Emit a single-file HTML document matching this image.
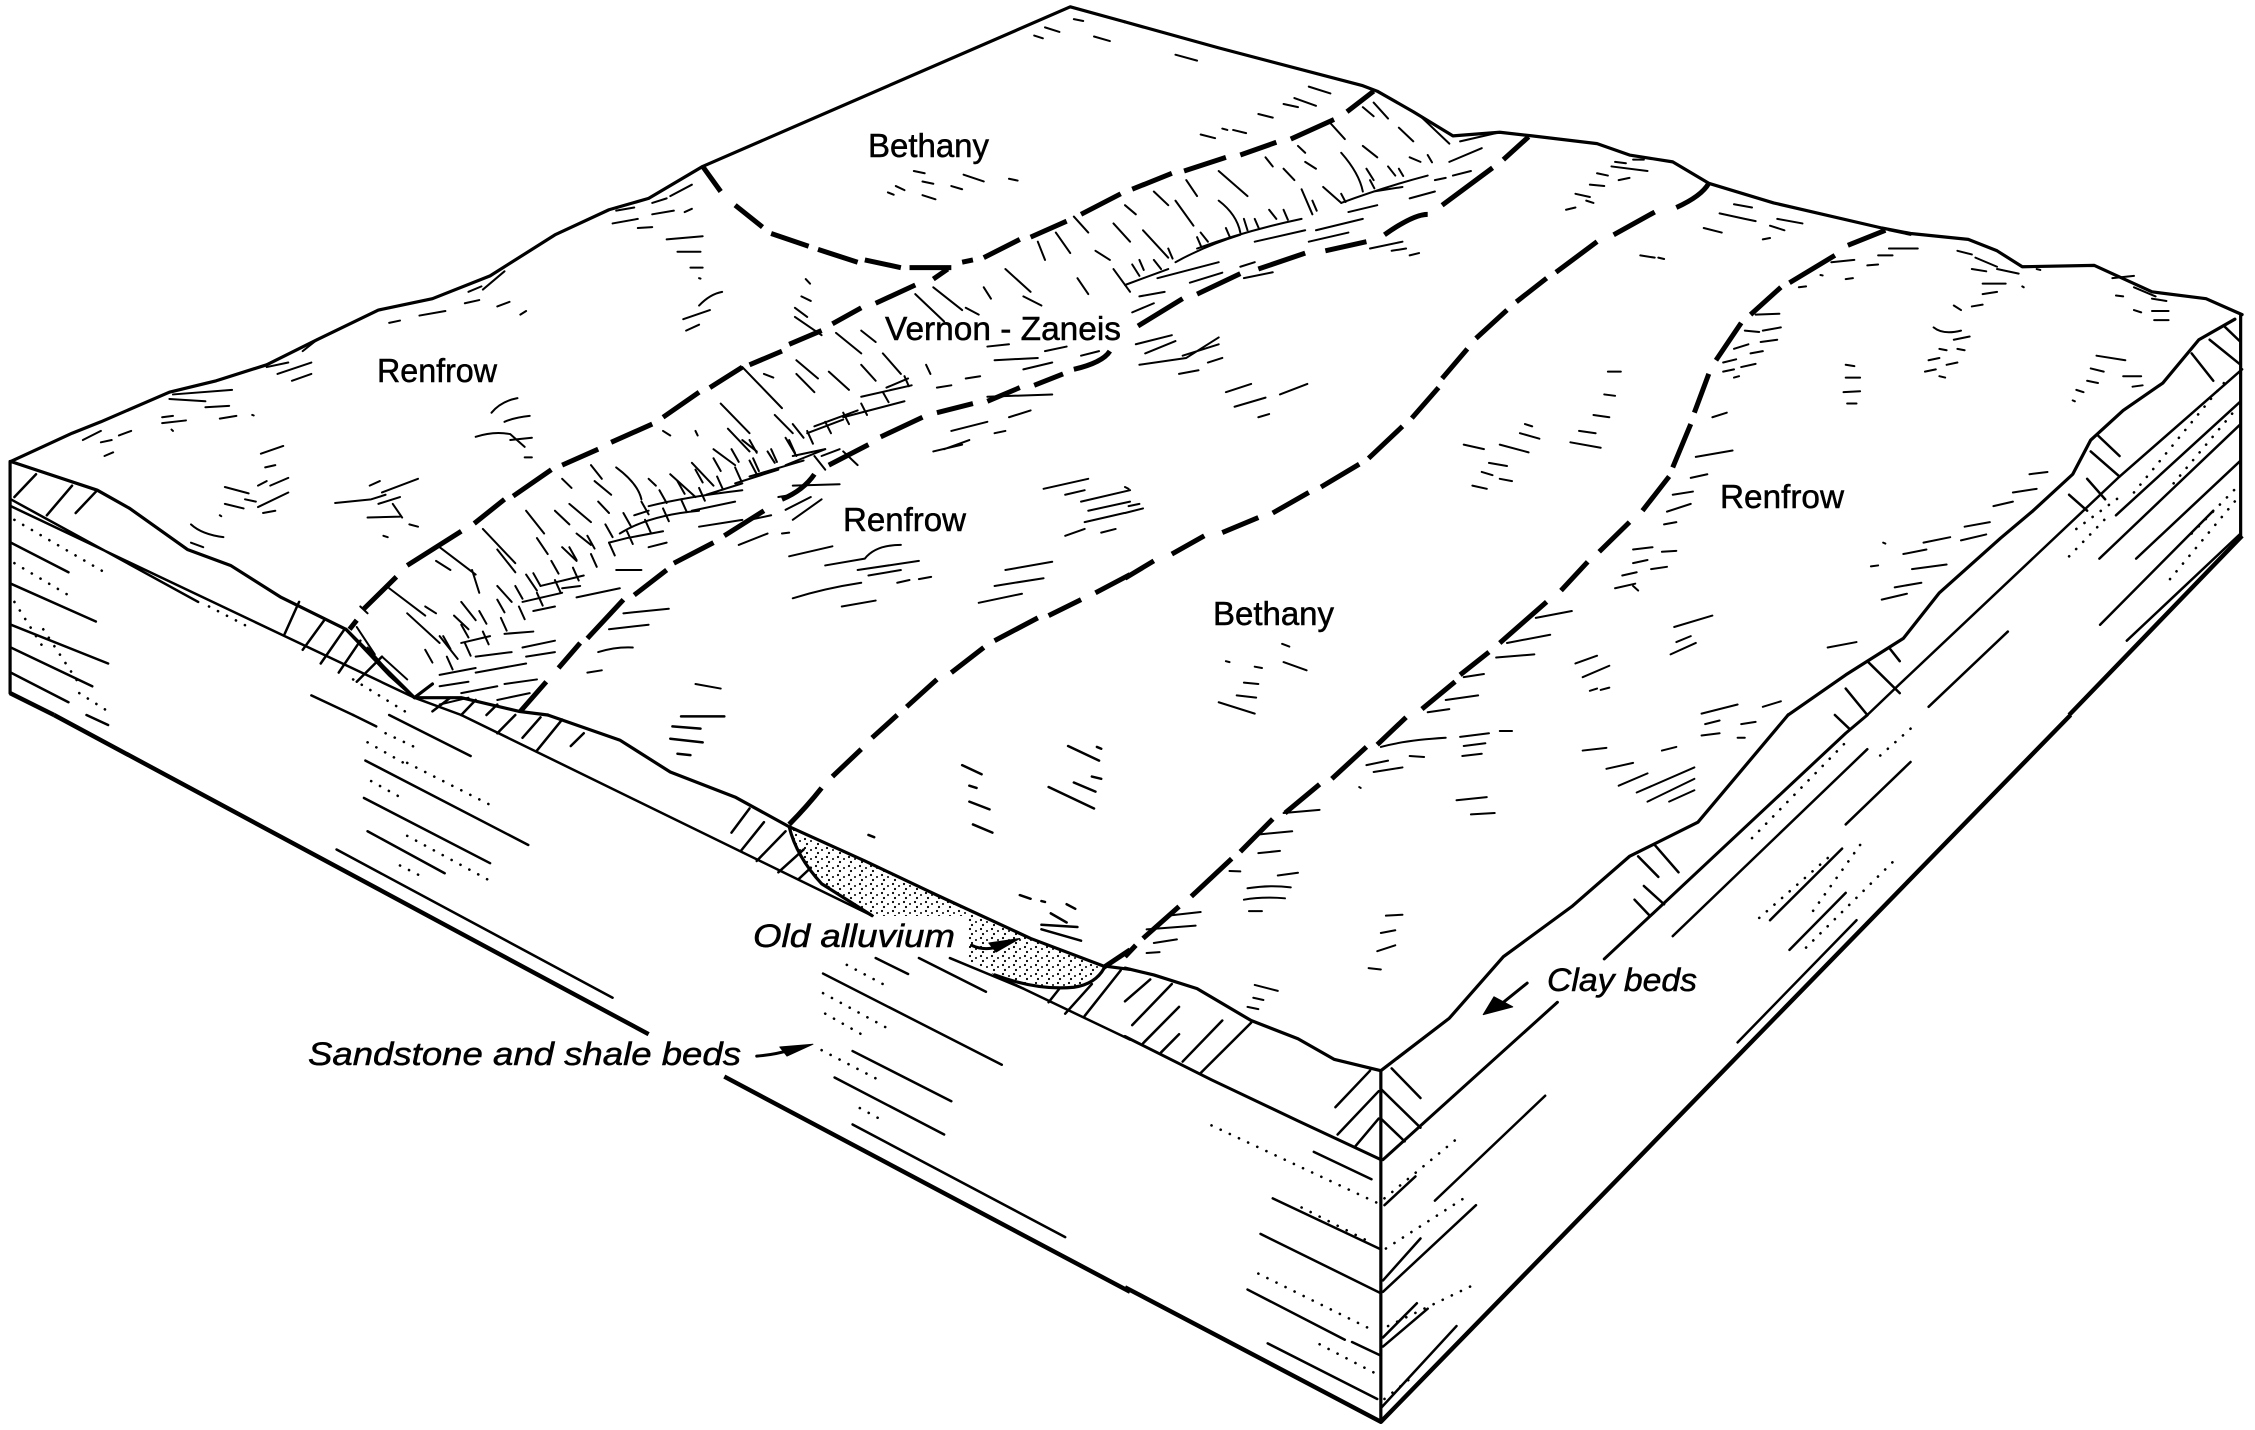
<!DOCTYPE html>
<html><head><meta charset="utf-8"><title>Block diagram</title>
<style>
html,body{margin:0;padding:0;background:#fff}
svg{display:block}
path{fill:none;stroke:#000;stroke-linecap:round;stroke-linejoin:round;vector-effect:non-scaling-stroke}
.o path{stroke-width:3.2px}
.k path{stroke-width:4.4px;stroke-linecap:butt}
.d path{stroke-width:5px;stroke-linecap:butt}
.t path{stroke-width:2px}
.m path{stroke-width:2.5px}
.p path{stroke-width:2.6px;stroke-dasharray:.1 10}
text{font-family:"Liberation Sans",sans-serif;fill:#000}
.l{font-size:33px;stroke:#000;stroke-width:.5px}
.i{font-size:32px;font-style:italic;stroke:#000;stroke-width:.5px}
</style></head><body>
<svg width="2255" height="1430" xmlns="http://www.w3.org/2000/svg">
<defs>
<pattern id="st" width="11" height="9" patternUnits="userSpaceOnUse">
<circle cx="2" cy="2" r="1.1"/><circle cx="8" cy="4" r="1"/><circle cx="4" cy="7" r="1.1"/>
</pattern>
</defs>

<path d="M791,829L865,861L937,895L1031,938L1103,968L1081,986L1045,989L995,975L969,961L966,916L872,916L822,884L800,856Z" style="stroke:none;fill:url(#st)"/>

<!-- Q1 -->
<g transform="translate(0,0) scale(.7207,.456)">
<g class="o">
<path d="M15,1012L100,950L140,925L235,860L300,835L370,800L440,745L525,680L600,655L680,605L770,515L845,460L900,435L975,365L1485,15L1561,48"/>
<path d="M15,1012L135,1075L180,1115L260,1205L320,1240L390,1310L480,1380L540,1480L575,1530L640,1530L720,1560L760,1568"/>
<path d="M14,1012L14,1520"/>
<path d="M480,1380L575,1530M575,1530L600,1500"/>
</g>
<g class="k"><path d="M14,1520L75,1568"/></g>
<g class="m"><path d="M15,1095L275,1320M15,1110L575,1530L640,1568"/></g>
<g class="d">
<path d="M975,365L1000,420M1020,450L1058,498M1070,512L1122,540M1135,547L1190,575M1200,570L1250,587M1262,587L1320,587M1335,575L1350,570"/>
<path d="M1555,425L1500,470M1480,485L1430,520M1415,525L1365,565M1315,590L1295,612M1270,625L1215,665M1195,675L1155,710M1140,725L1095,755M1085,770L1040,800M1030,805L985,850M970,860L920,915M905,930L848,970M830,985L780,1020M765,1030L712,1088M700,1095L658,1148M640,1165L565,1240M550,1265L505,1335M495,1360L485,1380"/>
<path d="M1540,770Q1530,795 1490,810M1475,820L1435,845M1415,850L1370,880M1350,885L1300,905M1280,915L1222,958M1205,975L1150,1020M1130,1040Q1115,1075 1085,1095M1060,1120L1005,1175M990,1190L935,1235M925,1250L880,1305M865,1315L815,1400M805,1410L775,1465M758,1495L722,1560"/>
<path d="M1568,1260L1520,1300M1500,1315L1455,1350M1440,1355L1380,1405M1365,1420L1320,1475M1300,1490L1258,1550"/>
</g>
<g class="m">
<path d="M15,1190L95,1255M15,1280L133,1363M15,1370L150,1455M15,1420L128,1505M15,1475L95,1540M432,1525L490,1568"/>
<path d="M20,1090L50,1040M65,1130L100,1065M105,1125L135,1075M395,1390L415,1320M420,1425L450,1360M445,1455L478,1380M470,1475L500,1405M495,1495L530,1440M600,1560L625,1530M640,1568L660,1535M675,1568L690,1545"/>
</g>
<g class="p"><path d="M20,1140L145,1255M20,1235L100,1310M20,1320L60,1420M60,1380L110,1500M290,1330L345,1375M490,1490L570,1568M110,1520L150,1560"/></g>
<g class="t">
<path d="M1268,375L1283,380M1337,383L1365,398M1400,392L1412,396M1280,398L1295,403M1320,408L1335,415M1243,408L1255,417M1232,422L1240,427M1280,428L1298,437M1435,78L1447,84M1450,60L1470,70M1518,80L1540,90M1490,42L1503,46"/>
<path d="M850,490L885,480M905,470L935,462M950,465L960,458M855,462L880,455M905,445L925,435M930,430L960,405M885,500L905,498M925,525L975,518M940,552L972,552M958,587L975,587M970,610L972,611M970,670Q985,645 1002,640M948,700L985,680M952,725L970,712M1118,612L1124,622M1112,650L1125,660M1103,675L1120,695M1103,695L1140,735"/>
<path d="M650,640L668,628M670,635L700,595M645,665L665,658M690,672L707,662M722,690L730,682M540,708L555,703M582,692L618,682M525,680L600,655"/>
<path d="M370,805L400,795M385,820L432,795M405,835L432,820M420,770L440,745M235,875L285,880M240,865L322,855M285,893L318,890M305,918L328,912M225,915L240,912M225,928L258,922M238,942L240,945M350,910L352,911"/>
<path d="M115,965L140,945M140,970L155,965M165,955L182,945M145,1000L157,992"/>
<path d="M362,995L393,978M368,1025L382,1020M312,1068L345,1082M358,1065L370,1055M375,1065L400,1048M340,1095L355,1100M358,1112L400,1080M312,1105L338,1115M365,1125L382,1120M265,1150Q280,1172 310,1178M265,1190L282,1200M305,1130L307,1132"/>
<path d="M682,905Q695,880 718,873M700,925Q715,915 735,912M660,958Q685,945 708,952L728,980M708,965L738,960M728,1003L738,1003"/>
<path d="M513,1065L527,1055M530,1080L580,1050M465,1103L515,1095L535,1085M525,1105L555,1090M510,1135L555,1133M545,1105L558,1135M568,1150L580,1155M532,1175L538,1178"/>
<path d="M1448,1072L1510,1050M1478,1085L1505,1075M1500,1100L1568,1075M1510,1120L1568,1100M1505,1145L1560,1125M1478,1175L1505,1160M1528,1168L1548,1160M1095,1220L1155,1198M1145,1240L1200,1225Q1215,1195 1250,1195M1190,1250L1275,1230M1205,1262L1250,1250M1100,1312Q1145,1290 1195,1278M1245,1278L1262,1272M1275,1270L1292,1265M1168,1330L1215,1317M1395,1250L1460,1232M1380,1285L1448,1268M1358,1322L1418,1302"/>
<path d="M1100,1065L1165,1062M1090,1118L1125,1090M1100,1140L1140,1095M1025,1195L1065,1170M1085,1170L1095,1168"/>
<path d="M865,1345L928,1335M845,1380L900,1370M830,1430Q855,1418 878,1420M815,1475L835,1470M965,1500L1000,1510M1310,985L1345,965M1320,945L1370,925M1380,950L1395,945M1295,990L1335,975M1400,915L1430,900M1370,870L1460,865"/>
<path d="M1030,805L1085,895M1000,885L1040,950M1060,820L1073,828M1105,790L1135,830M1105,820L1130,860M1150,815L1178,855M1195,800L1215,835M1160,730L1195,775M1195,725L1215,750M1225,775L1250,820M1270,645L1310,705M1295,630L1335,680M1340,675L1358,690M1365,630L1375,655M1395,590L1430,640M1420,650L1445,670M1465,510L1485,555M1490,475L1510,510M1520,550L1540,570M1440,530L1450,570M1495,610L1510,645M1545,590L1568,640M1545,490L1568,530"/>
<path d="M1030,965L1050,990M1075,910L1100,950M1010,940L1040,990M990,985L1020,1020M960,1015L990,1065M1040,1010L1050,1040M1065,990L1075,1015M1090,960L1105,1000M930,1040L965,1090M900,1050L910,1065M855,1025Q885,1060 890,1095M820,1020L835,1050M825,1055L848,1085M780,1050L793,1070M790,1105L820,1145M830,1100L845,1125M730,1120L755,1170M770,1120L790,1150M670,1160L715,1235M610,1200L660,1260M605,1230L625,1250M540,1290L590,1350M565,1345L610,1410M590,1330L605,1345M630,1350L650,1380M655,1250L665,1300M690,1205L715,1255M745,1180L760,1215M780,1200L800,1230M800,1170L820,1195"/>
<path d="M495,1375L520,1435M510,1420L540,1475M500,1330L510,1345M530,1440L565,1490M610,1395L635,1445M640,1320L660,1360M690,1285L710,1320M730,1260L745,1295M1170,990L1190,1020M1130,1000L1145,1030M1100,930L1115,960M920,945L930,955M965,945L968,955"/>
<!-- fine ticks along inner edge of scarp -->
<path d="M620,1440l8,28M645,1410l8,28M670,1385l8,28M695,1355l8,28M720,1330l8,28M745,1300l8,28M770,1272l8,28M795,1245l8,28M820,1215l8,28M845,1190l8,28M870,1165l8,28M895,1140l8,28M920,1115l8,28M945,1095l8,28M970,1070l8,28M995,1045l8,28M1020,1025l8,28M1045,1005l8,28M1070,985l8,28M1095,965l8,28M1120,945l8,28M1145,925l8,25M1170,905l8,25M1195,885l8,25M1225,860l8,22M1255,825l6,22M1285,800l6,20"/>
<path d="M590,1425l10,28M615,1395l10,28M640,1370l10,28M665,1340l10,28M690,1315l10,28M715,1285l10,28M740,1257l10,28M765,1230l10,28M790,1200l10,28M815,1175l10,28M840,1150l10,28M865,1125l10,28M890,1100l10,28M915,1075l10,28M940,1055l10,28M965,1030l10,28M990,1005l10,28M1015,985l10,28M1040,965l10,28"/>
<path d="M1120,950L1170,920M1130,935L1190,900M1170,915L1255,880M1195,870L1265,845M1300,850L1320,845M1340,830L1360,825M1380,790L1440,785M1450,770L1480,760M1370,760L1400,755M1500,780L1525,770M1420,810L1460,795M1230,850L1260,830M1140,1000L1165,985M1100,1000L1145,985"/>
<path d="M1020,1060L1080,1030M1040,1045L1115,1010M1090,1020L1145,985M980,1085L1030,1060M900,1110Q950,1090 1030,1075M960,1120L1020,1100M880,1130L900,1120M860,1170Q900,1130 970,1120M870,1180L920,1165M845,1190L870,1180M900,1200L925,1190M970,1155L1030,1140M1040,1140L1070,1130M1080,1090L1100,1085"/>
<path d="M750,1285L810,1262M780,1290L805,1285M725,1320L780,1300M740,1340L770,1330M800,1310L860,1290M855,1250L890,1250M700,1390L740,1385M725,1420L770,1405M640,1410L680,1395M660,1440L710,1430M610,1480L660,1465M660,1475L730,1455M640,1520L690,1505M610,1505L650,1495M700,1500L745,1490M690,1535L735,1520M610,1545L650,1530M730,1440L770,1430"/>
</g>
</g>

<!-- Q2 -->
<g transform="translate(1125,0) scale(.7207,.456)">
<g class="o">
<path d="M0,48L130,105L330,188L350,200L400,245L455,298L520,290L565,298L655,315L700,340L760,355L810,402L900,445L1050,500L1090,512L1170,525L1210,550L1245,585L1345,582L1425,640L1500,655L1550,690"/>
<path d="M1548,690L1548,1175"/>
<path d="M1540,700L1490,745L1440,840L1385,900L1340,965L1315,1040L1260,1120L1215,1180L1130,1300L1080,1400L1000,1480L920,1568"/>
</g>
<g class="k"><path d="M1310,1568L1550,1175"/></g>
<g class="m"><path d="M1030,1568L1075,1500L1380,1045L1550,810"/></g>
<g class="d">
<path d="M345,200L308,245M290,262L230,305M210,312L160,340M140,345L82,375M65,380L10,415"/>
<path d="M560,300L525,350M510,368L440,450M420,470Q400,470 360,515M335,530L278,550M250,555L185,590M160,600L100,645M80,655L18,715"/>
<path d="M810,402Q800,430 765,455M735,465L678,515M655,530L598,597M585,610L543,662M530,680L487,742M475,765L440,830M435,850L398,917M385,935L338,1005M325,1018L272,1068M255,1080L205,1125M185,1135L135,1168M110,1175L65,1215M40,1230L0,1268"/>
<path d="M1055,505L1003,538M985,560L922,620M910,630L868,690M855,708L820,790M810,820L790,905M785,930L760,1025M755,1045L718,1120M700,1145L658,1210M642,1232L605,1295M585,1320L520,1410M505,1430L465,1480M458,1495L412,1555"/>
</g>
<g class="t">
<path d="M70,120L100,133M255,190L285,205M235,215L265,232M220,228L240,235M185,250L205,258M105,295L125,303M135,282L142,285M150,285L168,292"/>
<path d="M345,225L365,260M330,235L345,255M380,280L400,310M410,255L450,315M330,320L350,345M285,270L305,305M240,320L250,335M195,345L205,365M220,370L235,395M250,355L265,370M300,335Q325,380 330,420M130,375L170,430M85,395L100,430M40,420L60,450M130,440Q155,470 160,510M70,440L95,495M25,505L60,565M0,450L15,470M245,415L260,470M275,410L300,445M200,460L210,480M165,480L170,505M105,510L115,530M335,370L345,395M365,365L375,385M395,345L410,355M10,580L20,605M40,570L50,590"/>
<path d="M0,625L60,590M70,575Q110,540 160,515M100,545Q170,505 245,480M300,445Q360,410 420,385M265,505L330,480M255,530L310,510M180,530L250,505M45,610L130,575M90,620L135,598M20,650L55,640M10,685L40,665M450,355L495,325M455,385L480,375M465,310L520,290M310,465L350,450M345,420L385,410M395,435L430,420M430,395L445,390M340,545L385,530M370,550L390,545M395,560L408,555M165,610L205,597M160,585L180,575"/>
<path d="M15,755L65,735M28,775L70,748M20,800L85,785L130,740M80,780L130,755M115,795L135,785M75,820L102,812M140,860L175,842M215,865L253,842M152,892L195,872M185,915L200,908"/>
<path d="M680,355L695,358M705,350L720,350M675,365L725,375M655,380L670,385M685,395L700,390M645,405L665,408M625,425L645,432M612,460L625,455M640,440L650,445M715,560L735,565M740,565L748,568M845,448L870,455M825,468L860,480M905,480L940,490M895,495L915,505M803,500L828,510M860,480L875,485M885,525L895,522"/>
<path d="M1060,505L1090,515M1060,545L1100,545M980,575L1012,570M1045,560L1065,560M1030,582L1045,580M1000,612L1010,610M935,630L945,628M965,603L968,604M1155,550L1175,558M1180,565L1210,585M1175,590L1195,595M1210,590L1240,600M1190,622L1222,622M1190,645L1210,640M1245,628L1247,630M1265,590L1270,592"/>
<path d="M1370,610L1400,605M1375,648L1385,650M1400,630L1430,650M1425,655L1445,660M1400,680L1410,685M1425,682L1448,682M1428,702L1448,702M1150,670L1160,680M1175,672L1190,668"/>
<path d="M875,690L908,688M860,725L880,728M885,725L910,718M845,765L865,755M882,750L905,745M868,775L885,770M830,795L848,788M855,805L875,798M830,815L845,810M845,828L852,825M815,915L835,905"/>
<path d="M1122,718Q1135,735 1160,725M1150,745L1172,738M1130,765L1140,768M1155,765L1165,768M1115,790L1130,785M1140,800L1155,795M1110,815L1125,810M1130,825L1138,828M1000,800L1012,803M1000,828L1020,828M997,860L1020,858M1002,885L1015,885M1348,780L1388,790M1340,808L1358,815M1385,825L1410,825M1335,835L1350,840M1320,855L1330,860M1398,848L1412,845M1315,878L1318,880"/>
<path d="M670,815L688,815M665,865L680,868M650,910L672,915M630,945L653,950M618,970L660,982M555,930L565,935M548,950L575,962M520,975L560,992M470,975L498,985M505,1015L530,1022M495,1035L510,1042M520,1050L537,1055M482,1065L502,1072"/>
<path d="M792,1002L843,988M785,1048L808,1040M760,1085L788,1078M752,1122L785,1105M748,1150L765,1145M705,1205L732,1200M745,1210L765,1208M705,1235L725,1228M730,1248L752,1243M690,1262L710,1255M680,1290L708,1280M705,1285L712,1295"/>
<path d="M1255,1040L1280,1035M1232,1080L1265,1072M1205,1110L1232,1100M1165,1155L1200,1145M1160,1185L1195,1172M1108,1190L1145,1178M1080,1215L1112,1205M1052,1190L1055,1192M1035,1242L1045,1240M1092,1248L1140,1238M1068,1288L1105,1278M1050,1315L1085,1302"/>
<path d="M762,1375L815,1350M765,1408L785,1395M757,1435L792,1410M975,1420L1015,1408M625,1455L655,1438M635,1485L672,1460M645,1515L655,1510M660,1513L672,1508M570,1355L620,1340M530,1410L590,1392M515,1442L568,1435M470,1485L498,1478M445,1535L490,1525M420,1562L450,1555M800,1565L850,1545M885,1550L910,1538"/>
<path d="M140,1450L145,1452M180,1462L190,1465M220,1452L252,1470M218,1412L228,1418M165,1497L185,1500M155,1525L182,1530M130,1540L180,1565M0,1068L5,1072M5,1110L20,1105M0,1125L25,1115"/>
<path d="M20,570l6,22M60,545l6,22M100,520l6,22M140,500l6,22M180,480l6,22M220,460l6,22M260,440l6,22M300,425l6,18M340,395l6,18M380,370l6,16M420,340l6,16"/>
</g>
<g class="m">
<path d="M1375,1130L1548,880M1352,1225L1548,930M1403,1225L1548,1010M1353,1370L1510,1120M1390,1405L1548,1170M1115,1550L1225,1385"/>
<path d="M1480,775L1510,835M1505,745L1548,800M1525,715L1548,750M1350,955L1380,1000M1340,990L1380,1045M1335,1050L1360,1095M1310,1085L1335,1120M1000,1510L1030,1568M1030,1450L1075,1520M1060,1420L1075,1450"/>
</g>
<g class="p">
<path d="M1310,1220L1365,1130M1320,1160L1380,1090M1400,1080L1530,830M1455,1060L1540,900M1450,1270L1545,1090M1480,1170L1548,1060"/>
</g>
</g>

<!-- Q3 -->
<g transform="translate(0,715) scale(.7207,.456)">
<g class="o">
<path d="M760,0L860,55L930,125L1020,180L1095,245L1200,320L1300,395L1430,490L1530,550L1568,558"/>
<path d="M1095,245Q1105,310 1140,370L1210,440"/>
<path d="M1380,570Q1440,605 1490,597Q1520,590 1532,555"/>
</g>
<g class="k"><path d="M75,0L900,700M1005,793L1568,1265"/></g>
<g class="m"><path d="M640,0L1210,440M1380,570L1568,712"/></g>
<g class="d"><path d="M1245,0L1210,50M1195,75L1155,135M1140,160Q1120,200 1095,240M1568,515L1530,555"/></g>
<g class="m">
<path d="M120,0L150,22M467,295L850,620M490,0L522,25M540,0L653,90M507,100L733,285M505,182L680,325M510,255L617,347M1183,898L1478,1145M1158,795L1310,920M1183,737L1320,847M1142,567L1390,767M1215,533L1260,568M1275,533L1368,607M1318,533L1420,600"/>
<path d="M690,40L715,0M725,50L750,5M745,78L780,10M792,68L810,40M1015,258L1040,205M1028,298L1060,235M1050,320L1090,255M1080,345L1115,295M1108,360L1125,335M1140,370L1150,378M1455,630L1470,600M1478,655L1515,590M1505,660L1555,560"/>
<path d="M1335,110L1362,130M1345,155L1355,160M1345,190L1373,207M1350,240L1377,258M1482,68L1525,100M1522,70L1528,74M1490,148L1520,168M1455,158L1518,205M1515,135L1528,140M1415,395L1430,403M1445,408L1450,410M1480,415L1492,425M1458,435L1480,455M1445,460L1495,465M1445,470L1500,495M1205,263L1213,268M945,3L1005,3M933,25L972,30M930,52L975,60M940,85L958,88"/>
</g>
<g class="p">
<path d="M535,40L575,70M510,60L560,105M565,105L690,205M515,145L555,180M565,265L685,368M555,330L590,358M1175,548L1225,590M1142,610L1235,690M1145,655L1195,700M1140,735L1225,805M1193,862L1228,892"/>
</g>
<g class="m"><path d="M1348,505Q1365,518 1385,508" style="stroke-width:3px"/><path d="M1050,748Q1075,745 1095,735" style="stroke-width:3px"/></g>
<path d="M1415,490L1372,500L1382,520Z" style="fill:#000;stroke:#000"/>
<path d="M1128,722L1082,728L1092,748Z" style="fill:#000;stroke:#000"/>
</g>

<!-- Q4 -->
<g transform="translate(1125,715) scale(.7207,.456)">
<g class="o">
<path d="M0,555L40,570L100,600L175,670L240,710L290,755L355,780"/>
<path d="M920,0L795,235L700,310L620,420L525,530L450,665L355,780"/>
<path d="M355,780L355,1550"/>
</g>
<g class="k"><path d="M0,1255L355,1550L1312,0"/></g>
<g class="m"><path d="M0,705L120,800L240,890L355,975M358,975L600,630M665,535L1000,40L1030,0" style="stroke-width:3px"/></g>
<g class="d"><path d="M390,5L350,65M335,70L287,140M270,152L222,215M205,228L160,300M148,315L92,398M75,420L25,490M15,505L0,530"/></g>
<g class="m">
<path d="M262,958L342,1018M205,1060L355,1172M188,1138L355,1268M170,1260L305,1370M315,1375L355,1405M198,1378L350,1500"/>
<path d="M760,485L1030,75M1000,240L1090,103M895,450L995,293M922,515L1000,390M850,718L1015,450M430,1065L583,835M360,1075L403,1012M358,1265L487,1075M358,1240L410,1148M358,1385L420,1302M358,1365L405,1290M355,1520L460,1340"/>
<path d="M370,775L410,840M355,820L410,905M355,885L388,935M340,780L292,860M352,825L295,920M352,885L320,945M735,285L768,345M712,310L740,355M720,375L748,415M707,405L728,440"/>
<path d="M0,628L35,580M65,590L10,680M75,640L25,720M75,700L50,740M135,670L80,760M175,675L105,785M1005,30L985,0"/>
</g>
<g class="t">
<path d="M355,70Q390,55 445,50M465,48L505,40M520,35L537,35M470,68L500,62M468,90L495,85M335,110L365,100M345,125L385,115M395,90L415,92M635,78L668,72M745,78L765,70M800,45L825,40M805,20L825,12M855,20L875,15M850,50L860,50M668,118L705,105M685,155L725,128M710,170L790,115M725,190L790,140M755,190L790,165M460,187L502,180M480,218L513,215M220,215L270,208M325,158L327,160"/>
<path d="M185,262L232,255M185,303L215,298M145,342L160,343M212,352L240,346M170,380Q200,372 230,378M165,405Q190,398 222,402M172,430L190,430M60,440L105,432M30,470L98,462M40,500L72,492M30,522L48,520M362,440L385,438M355,478L375,472M350,518L375,505M338,555L355,558M180,592L212,605M178,620L192,625M170,640L185,645"/>
</g>
<g class="p">
<path d="M870,270L1000,60M880,445L985,300M1020,285L950,440M945,510L1070,315M120,900L350,1070M245,1080L345,1160M185,1225L345,1350M270,1380L355,1450M360,1060L460,930M362,1170L470,1060M365,1340L490,1245M360,1500L400,1450M1090,30L1040,100"/>
</g>
<g class="m"><path d="M558,588L525,630" style="stroke-width:3px"/></g>
<path d="M497,657L512,618L538,640Z" style="fill:#000;stroke:#000"/>
</g>

<!-- labels -->
<text class="l" x="868" y="157" textLength="121" lengthAdjust="spacingAndGlyphs">Bethany</text>
<text class="l" x="377" y="382" textLength="120" lengthAdjust="spacingAndGlyphs">Renfrow</text>
<text class="l" x="885" y="340" textLength="236" lengthAdjust="spacingAndGlyphs">Vernon - Zaneis</text>
<text class="l" x="843" y="531" textLength="123" lengthAdjust="spacingAndGlyphs">Renfrow</text>
<text class="l" x="1720" y="508" textLength="124" lengthAdjust="spacingAndGlyphs">Renfrow</text>
<text class="l" x="1213" y="625" textLength="121" lengthAdjust="spacingAndGlyphs">Bethany</text>
<text class="i" x="753" y="947" textLength="202" lengthAdjust="spacingAndGlyphs">Old alluvium</text>
<text class="i" x="308" y="1065" textLength="433" lengthAdjust="spacingAndGlyphs">Sandstone and shale beds</text>
<text class="i" x="1547" y="991" textLength="150" lengthAdjust="spacingAndGlyphs">Clay beds</text>
</svg>
</body></html>
